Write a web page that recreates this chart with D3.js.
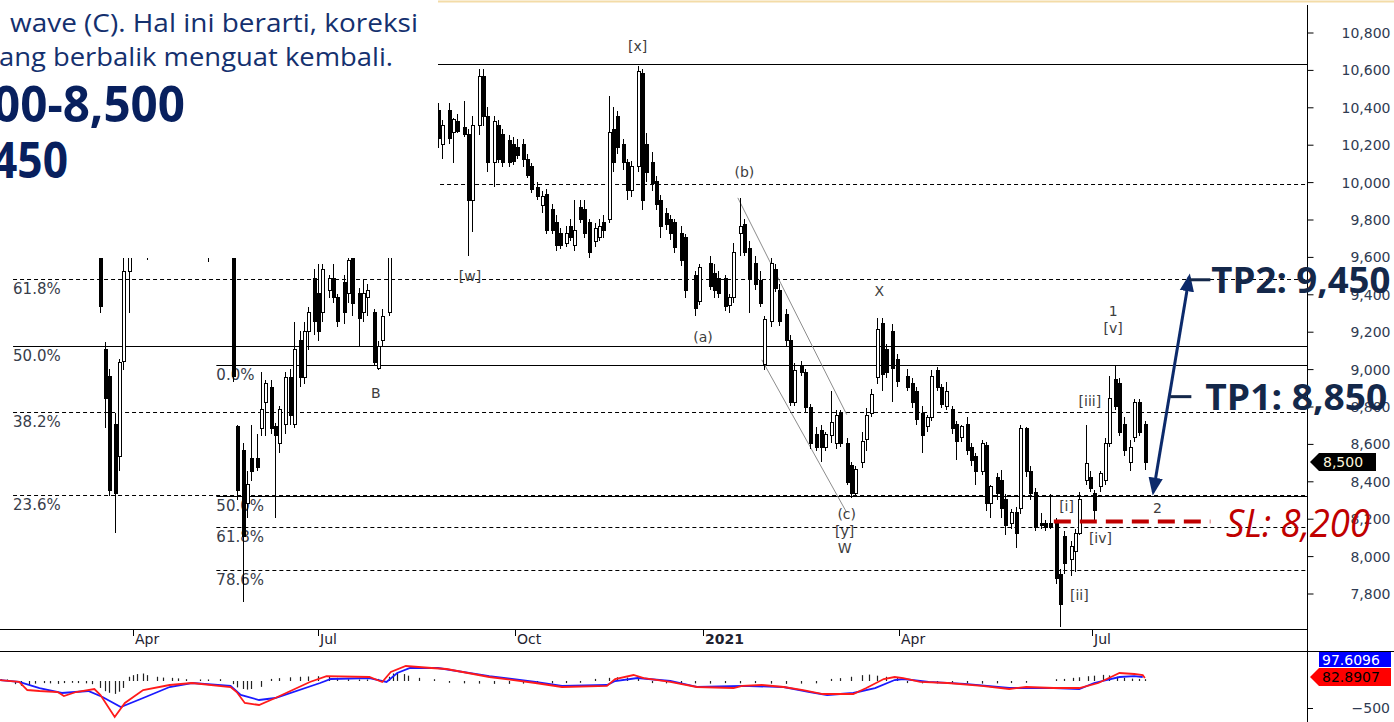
<!DOCTYPE html>
<html lang="en">
<head>
<meta charset="UTF-8">
<title>Elliott wave chart</title>
<script src="https://d3js.org/d3.v7.min.js"></script>
<style>
    body { margin: 0; background: #fff; }
    svg { display: block; }
    text { font-family: 'DejaVu Sans', sans-serif; }
    .price-label { font-size: 14px; fill: #2f3b52; text-anchor: end; }
    .time-label { font-size: 14px; fill: #1e2230; }
    .wave { font-size: 14px; fill: #3d3d3d; text-anchor: middle; }
    .fib { font-size: 15px; fill: #383d4a; }
    .note { font-family: 'Open Sans', sans-serif; }
</style>
</head>
<body>
<svg id="chart" width="1394" height="722"></svg>
<script>
const priceTicks = [7800, 8000, 8200, 8400, 8600, 8800, 9000, 9200, 9400, 9600, 9800, 10000, 10200, 10400, 10600, 10800];
const timeTicks = ["2020-04-01", "2020-07-01", "2020-10-01", "2021-01-01", "2021-04-01", "2021-07-01"];
const timeLabels = ["Apr", "Jul", "Oct", "2021", "Apr", "Jul"];

// date, open, high, low, close
const candles = [
    ["2020-02-03",10600,10700,10500,10550],["2020-02-06",10550,10650,10450,10600],["2020-02-10",10600,10700,10480,10520],
    ["2020-02-13",10520,10600,10400,10450],["2020-02-17",10450,10550,10350,10500],["2020-02-20",10500,10600,10380,10420],
    ["2020-02-24",10420,10450,10150,10200],["2020-02-27",10200,10300,10000,10050],["2020-03-02",10050,10250,9950,10200],
    ["2020-03-05",10200,10300,10050,10100],["2020-03-09",10100,10150,9800,9850],["2020-03-11",9850,9900,9700,9750],
    ["2020-03-13",9750,9800,9640,9700],["2020-03-16",9700,9720,9300,9330],["2020-03-18",9100,9140,8680,8840],
    ["2020-03-20",8960,9000,8320,8350],["2020-03-23",8700,8760,8120,8330],["2020-03-25",8530,9050,8450,9030],
    ["2020-03-27",9040,9800,8990,9520],["2020-03-30",9520,9850,9300,9780],["2020-04-01",9780,10000,9700,9950],
    ["2020-04-03",9950,10100,9800,9900],["2020-04-06",9900,10050,9750,9800],["2020-04-08",9800,9900,9580,9850],
    ["2020-04-13",9850,10150,9800,10100],["2020-04-16",10100,10300,10000,10200],["2020-04-20",10200,10400,10100,10300],
    ["2020-04-23",10300,10450,10150,10250],["2020-04-27",10250,10350,10050,10100],["2020-04-30",10100,10200,9900,9950],
    ["2020-05-04",9950,10000,9750,9800],["2020-05-08",9800,9850,9570,9700],["2020-05-11",9700,9850,9650,9800],
    ["2020-05-14",9800,9900,9700,9750],["2020-05-18",9750,9850,9700,9720],["2020-05-20",9720,9760,8930,8960],
    ["2020-05-22",8690,8700,8300,8350],["2020-05-25",8560,8600,7750,8100],["2020-05-27",8280,8450,8200,8380],
    ["2020-05-29",8520,8700,8400,8450],["2020-06-01",8520,8650,8450,8470],["2020-06-03",8680,8980,8640,8780],
    ["2020-06-05",8820,8940,8640,8920],["2020-06-08",8900,8940,8650,8680],["2020-06-10",8690,8710,8200,8640],
    ["2020-06-12",8600,8800,8550,8780],["2020-06-15",8700,8980,8650,8950],["2020-06-17",8950,9000,8700,8750],
    ["2020-06-19",8700,9250,8680,9100],["2020-06-22",9150,9200,8900,8950],["2020-06-24",8950,9250,8920,9200],
    ["2020-06-26",9200,9330,9100,9300],["2020-06-29",9480,9530,9180,9250],["2020-07-01",9400,9560,9150,9200],
    ["2020-07-03",9300,9560,9250,9530],["2020-07-06",9420,9500,9380,9480],["2020-07-08",9480,9560,9350,9380],
    ["2020-07-10",9380,9400,9220,9250],["2020-07-13",9460,9500,9240,9300],["2020-07-15",9400,9600,9350,9580],
    ["2020-07-17",9600,9640,9280,9350],["2020-07-20",9400,9430,9120,9270],["2020-07-22",9300,9480,9250,9400],
    ["2020-07-24",9380,9450,9280,9420],["2020-07-27",9300,9320,9020,9030],["2020-07-29",9000,9150,8990,9120],
    ["2020-07-31",9150,9320,9120,9280],["2020-08-03",9300,9800,9280,9700],["2020-08-05",9700,9900,9650,9850],
    ["2020-08-07",9850,10000,9750,9950],["2020-08-10",9950,10150,9900,10100],["2020-08-12",10100,10250,10000,10200],
    ["2020-08-14",10200,10350,10100,10300],["2020-08-18",10300,10400,10200,10250],["2020-08-20",10250,10350,10150,10300],
    ["2020-08-24",10300,10400,10200,10350],["2020-08-26",10380,10420,10180,10230],["2020-08-28",10200,10330,10120,10300],
    ["2020-08-31",10380,10420,10200,10230],["2020-09-02",10260,10340,10100,10330],["2020-09-04",10320,10360,10260,10270],
    ["2020-09-07",10290,10430,10240,10250],["2020-09-09",10250,10280,9600,9900],["2020-09-11",9900,10350,9730,10300],
    ["2020-09-14",10300,10600,10250,10560],["2020-09-16",10560,10600,10300,10350],["2020-09-18",10350,10400,10050,10100],
    ["2020-09-21",10100,10350,9970,10320],["2020-09-23",10300,10330,10100,10120],["2020-09-25",10250,10280,10080,10100],
    ["2020-09-28",10220,10250,10080,10100],["2020-09-30",10200,10240,10090,10110],["2020-10-02",10180,10230,10120,10140],
    ["2020-10-05",10200,10230,10080,10120],["2020-10-07",10120,10150,10020,10030],["2020-10-09",10080,10100,9940,9960],
    ["2020-10-12",9970,10000,9900,9920],["2020-10-14",9870,9950,9830,9920],["2020-10-16",9930,9960,9720,9740],
    ["2020-10-19",9850,9880,9720,9740],["2020-10-21",9780,9820,9630,9660],["2020-10-23",9720,9750,9640,9660],
    ["2020-10-26",9670,9760,9650,9720],["2020-10-28",9760,9800,9680,9700],["2020-10-30",9660,9900,9630,9740],
    ["2020-11-02",9860,9900,9780,9800],["2020-11-04",9850,9900,9700,9720],["2020-11-06",9780,9800,9590,9620],
    ["2020-11-09",9680,9780,9650,9750],["2020-11-11",9700,9800,9680,9760],["2020-11-13",9780,9820,9700,9740],
    ["2020-11-16",9800,10460,9780,10260],["2020-11-18",10280,10400,10050,10100],["2020-11-20",10350,10380,10150,10180],
    ["2020-11-23",10200,10230,10060,10100],["2020-11-25",10100,10120,9900,9950],["2020-11-27",9950,10110,9920,10080],
    ["2020-11-30",10080,10620,10050,10590],["2020-12-02",10580,10600,9850,9900],["2020-12-04",10200,10260,10000,10050],
    ["2020-12-07",10100,10160,9950,9990],["2020-12-09",10000,10030,9850,9880],["2020-12-11",9900,9930,9700,9760],
    ["2020-12-14",9830,9860,9740,9770],["2020-12-16",9800,9820,9690,9720],["2020-12-18",9780,9800,9620,9650],
    ["2020-12-21",9720,9760,9550,9580],["2020-12-23",9700,9720,9380,9420],["2020-12-28",9500,9520,9280,9320],
    ["2020-12-30",9360,9560,9340,9540],["2021-01-04",9560,9600,9420,9440],["2021-01-06",9510,9560,9380,9420],
    ["2021-01-08",9480,9520,9380,9400],["2021-01-11",9480,9500,9310,9330],["2021-01-13",9340,9400,9300,9380],
    ["2021-01-15",9380,9670,9350,9620],["2021-01-18",9720,9910,9600,9760],["2021-01-20",9770,9800,9600,9620],
    ["2021-01-22",9640,9680,9300,9480],["2021-01-25",9560,9600,9420,9450],["2021-01-27",9470,9520,9330,9350],
    ["2021-01-29",9020,9280,8990,9260],["2021-02-01",9250,9590,9220,9560],["2021-02-03",9530,9560,9410,9430],
    ["2021-02-05",9420,9450,9230,9250],["2021-02-08",9290,9320,9120,9150],["2021-02-10",9150,9180,8800,8820],
    ["2021-02-12",8820,9030,8800,8990],["2021-02-15",9010,9040,8960,8980],["2021-02-17",8980,9000,8760,8790],
    ["2021-02-19",8790,8810,8570,8600],["2021-02-22",8650,8690,8560,8580],["2021-02-24",8670,8700,8500,8580],
    ["2021-02-26",8580,8660,8560,8650],["2021-03-01",8640,8880,8600,8710],["2021-03-03",8600,8780,8570,8750],
    ["2021-03-05",8760,8780,8580,8600],["2021-03-08",8600,8630,8380,8390],["2021-03-10",8480,8500,8310,8330],
    ["2021-03-12",8330,8480,8320,8460],["2021-03-15",8500,8660,8470,8610],["2021-03-17",8620,8790,8560,8750],
    ["2021-03-19",8760,8890,8740,8860],["2021-03-22",8950,9270,8920,9210],["2021-03-24",9240,9270,8880,8970],
    ["2021-03-26",9100,9130,8950,8980],["2021-03-29",9200,9240,8820,9000],["2021-03-31",9050,9080,8900,8930],
    ["2021-04-05",8960,9000,8880,8900],["2021-04-07",8920,8950,8790,8820],["2021-04-09",8880,8900,8700,8730],
    ["2021-04-12",8760,8800,8550,8640],["2021-04-14",8690,8750,8660,8740],["2021-04-16",8740,8990,8720,8960],
    ["2021-04-19",8990,9010,8880,8900],["2021-04-21",8900,8920,8790,8810],["2021-04-23",8800,8930,8780,8880],
    ["2021-04-26",8780,8800,8650,8680],["2021-04-28",8700,8720,8510,8610],["2021-04-30",8630,8700,8610,8690],
    ["2021-05-03",8700,8740,8540,8560],["2021-05-05",8580,8600,8480,8510],["2021-05-07",8530,8550,8380,8450],
    ["2021-05-10",8450,8620,8430,8600],["2021-05-12",8590,8610,8240,8280],["2021-05-14",8280,8380,8200,8370],
    ["2021-05-17",8420,8440,8300,8330],["2021-05-19",8400,8460,8200,8250],["2021-05-21",8300,8330,8110,8160],
    ["2021-05-24",8170,8250,8140,8230],["2021-05-26",8230,8260,8040,8120],["2021-05-28",8250,8700,8220,8680],
    ["2021-05-31",8680,8690,8420,8450],["2021-06-02",8450,8480,8300,8330],["2021-06-04",8340,8360,8130,8150],
    ["2021-06-07",8170,8230,8140,8160],["2021-06-09",8170,8190,8130,8150],["2021-06-11",8170,8330,8140,8150],
    ["2021-06-14",8170,8200,7850,7880],["2021-06-16",7900,7930,7620,7740],["2021-06-18",8100,8130,7900,7960],
    ["2021-06-21",7980,8080,7890,8050],["2021-06-23",8020,8140,7910,8120],["2021-06-25",8120,8340,8110,8300],
    ["2021-06-28",8400,8700,8380,8490],["2021-06-30",8420,8450,8340,8360],["2021-07-02",8330,8350,8190,8240],
    ["2021-07-05",8370,8450,8340,8440],["2021-07-07",8400,8630,8380,8600],["2021-07-09",8600,8960,8580,8840],
    ["2021-07-12",8940,9020,8780,8800],["2021-07-14",8920,8950,8640,8660],["2021-07-16",8700,8740,8530,8560],
    ["2021-07-19",8500,8620,8450,8580],["2021-07-21",8630,8840,8610,8820],["2021-07-23",8820,8840,8640,8660],
    ["2021-07-26",8700,8720,8460,8500]
];

const redLine = [
    ["2020-01-26",18],["2020-02-05",-18],["2020-02-09",-167],["2020-02-15",-185],["2020-02-24",-204],["2020-02-27",-278],
    ["2020-03-04",-204],["2020-03-13",-148],["2020-03-16",-259],["2020-03-23",-666],["2020-03-28",-407],["2020-04-06",-167],
    ["2020-04-19",-74],["2020-04-30",-37],["2020-05-19",-111],["2020-05-22",-204],["2020-05-26",-407],["2020-06-02",-444],
    ["2020-06-10",-315],["2020-06-27",-18],["2020-07-05",92],["2020-07-25",74],["2020-07-31",-18],["2020-08-04",167],
    ["2020-08-11",278],["2020-08-23",241],["2020-08-30",222],["2020-09-19",74],["2020-10-11",-37],["2020-10-24",-111],
    ["2020-11-15",-92],["2020-11-19",37],["2020-11-28",111],["2020-12-03",55],["2020-12-16",-18],["2020-12-29",-111],
    ["2021-01-15",-130],["2021-01-19",-92],["2021-01-28",-74],["2021-02-07",-111],["2021-02-16",-167],["2021-02-25",-241],
    ["2021-03-11",-241],["2021-03-17",-130],["2021-03-25",37],["2021-03-30",74],["2021-04-03",55],["2021-04-11",-18],
    ["2021-04-24",-37],["2021-05-10",-92],["2021-05-23",-148],["2021-05-31",-111],["2021-06-13",-130],["2021-06-25",-130],
    ["2021-07-04",-37],["2021-07-10",74],["2021-07-14",148],["2021-07-21",130],["2021-07-25",111],["2021-07-26",55]
];

const blueLine = [
    ["2020-01-26",18],["2020-02-05",-18],["2020-02-15",-130],["2020-02-26",-222],["2020-03-10",-185],["2020-03-17",-296],
    ["2020-03-26",-481],["2020-04-06",-315],["2020-04-19",-111],["2020-04-30",-37],["2020-05-19",-92],["2020-05-24",-259],
    ["2020-06-02",-352],["2020-06-10",-315],["2020-07-02",-37],["2020-07-07",37],["2020-07-25",55],["2020-08-02",-18],
    ["2020-08-07",148],["2020-08-13",241],["2020-08-26",241],["2020-09-19",92],["2020-10-11",-18],["2020-10-24",-92],
    ["2020-11-15",-74],["2020-11-19",0],["2020-11-30",55],["2020-12-16",0],["2020-12-29",-110],["2021-01-19",-92],
    ["2021-02-07",-111],["2021-02-19",-204],["2021-02-27",-259],["2021-03-11",-222],["2021-03-21",-130],["2021-03-30",18],
    ["2021-04-03",37],["2021-04-15",-18],["2021-05-02",-55],["2021-05-23",-130],["2021-06-13",-130],["2021-06-25",-148],
    ["2021-07-02",-37],["2021-07-14",74],["2021-07-21",92],["2021-07-25",74]
];

const histBars = [
    ["2020-01-27",15],["2020-01-30",10],["2020-02-03",-40],["2020-02-06",-70],["2020-02-10",-60],["2020-02-13",-30],
    ["2020-02-17",-20],["2020-02-20",-25],["2020-02-24",-35],["2020-02-27",-20],["2020-03-02",-15],["2020-03-05",-20],
    ["2020-03-09",-25],["2020-03-12",-40],["2020-03-16",-110],["2020-03-18",-170],["2020-03-20",-200],["2020-03-23",-220],
    ["2020-03-25",-180],["2020-03-27",-110],["2020-03-30",60],["2020-04-01",90],["2020-04-03",110],["2020-04-06",120],
    ["2020-04-08",90],["2020-04-13",60],["2020-04-16",45],["2020-04-20",40],["2020-04-23",30],["2020-04-27",15],
    ["2020-05-04",10],["2020-05-08",10],["2020-05-14",15],["2020-05-20",-40],["2020-05-22",-100],["2020-05-25",-130],
    ["2020-05-27",-140],["2020-05-29",-130],["2020-06-03",-90],["2020-06-08",20],["2020-06-12",35],["2020-06-17",50],
    ["2020-06-22",60],["2020-06-26",65],["2020-07-01",70],["2020-07-06",60],["2020-07-10",40],["2020-07-15",15],
    ["2020-07-20",10],["2020-07-24",10],["2020-07-29",20],["2020-08-03",60],["2020-08-05",120],["2020-08-07",130],
    ["2020-08-10",110],["2020-08-12",80],["2020-08-17",40],["2020-08-24",15],["2020-08-31",-15],["2020-09-07",-25],
    ["2020-09-14",-30],["2020-09-21",-35],["2020-09-28",-35],["2020-10-05",-30],["2020-10-12",-30],["2020-10-19",-25],
    ["2020-10-26",-20],["2020-11-02",-15],["2020-11-09",20],["2020-11-16",40],["2020-11-20",50],["2020-11-25",45],
    ["2020-11-30",40],["2020-12-07",-20],["2020-12-14",-25],["2020-12-21",-30],["2020-12-28",-25],["2021-01-04",-30],
    ["2021-01-11",-20],["2021-01-18",-25],["2021-01-25",-20],["2021-02-01",-30],["2021-02-08",-35],["2021-02-15",-30],
    ["2021-02-22",-25],["2021-03-01",20],["2021-03-05",35],["2021-03-10",60],["2021-03-15",90],["2021-03-18",100],
    ["2021-03-22",80],["2021-03-26",60],["2021-03-31",35],["2021-04-05",-20],["2021-04-12",-25],["2021-04-19",-25],
    ["2021-04-26",-20],["2021-05-03",-25],["2021-05-10",-30],["2021-05-17",-25],["2021-05-24",-20],["2021-05-31",-15],
    ["2021-06-14",15],["2021-06-18",20],["2021-06-22",40],["2021-06-25",50],["2021-06-29",70],["2021-07-02",80],
    ["2021-07-06",95],["2021-07-09",85],["2021-07-13",60],["2021-07-16",40],["2021-07-20",25],["2021-07-23",20],
    ["2021-07-26",15]
];

const fibAStart = "2020-02-02";
const fibALevels = [7614, 8326, 8766, 9122, 9478, 9985, 10630];
const fibALabels = ["0.0%", "23.6%", "38.2%", "50.0%", "61.8%", "78.6%", "100.0%"];
const fibADashed = [false, true, true, false, true, true, false];

const fibBStart = "2020-05-12";
const fibBLevels = [9021, 8320, 8155, 7925, 7620];
const fibBLabels = ["0.0%", "50.0%", "61.8%", "78.6%", "100.0%"];
const fibBDashed = [false, false, true, true, false];

const channelLines = [
    [["2021-01-17", 9913], ["2021-03-08", 8754]],
    [["2021-01-28", 9047], ["2021-03-08", 8230]]
];

const waveLabels = [
    ["[x]","2020-11-30",10699],["[w]","2020-09-10",9470],["(b)","2021-01-20",10025],["(a)","2021-01-01",9144],
    ["X","2021-03-23",9389],["B","2020-07-28",8844],["(c)","2021-03-08",8198],["[y]","2021-03-07",8107],
    ["W","2021-03-07",8016],["1","2021-07-11",9283],["[v]","2021-07-11",9192],["[iii]","2021-06-30",8802],
    ["[i]","2021-06-19",8241],["[iv]","2021-07-05",8070],["[ii]","2021-06-25",7765],["2","2021-08-01",8230]
];

const lastPrice = 8500;
const indicatorValues = ["97.6096", "82.8907"];
const indicatorTick = -500;

const arrowFrom = ["2021-07-30", 8340];
const arrowTo = ["2021-08-16", 9490];
const targets = [
    { label: "TP2: 9,450", level: 9475, start: "2021-08-16", end: "2021-08-26" },
    { label: "TP1: 8,850", level: 8850, start: "2021-08-07", end: "2021-08-17" }
];
const stopLoss = { label: "SL: 8,200", level: 8182, start: "2021-06-13", end: "2021-08-26" };

const noteLines = ["wave (C). Hal ini berarti, koreksi", "ang berbalik menguat kembali."];
const noteBold = ["00-8,500", "450"];

const parse = d3.timeParse("%Y-%m-%d");
const chart = d3.select("#chart");

const x = d3.scaleTime()
    .domain(["2020-01-01", "2020-04-01", "2020-07-01", "2020-10-01", "2021-01-01", "2021-04-01", "2021-07-01", "2021-11-01"].map(parse))
    .range([-52, 133, 318, 515, 703, 899, 1092, 1352]);
const y = d3.scaleLinear().domain([7800, 10800]).range([593, 32]);
const yInd = d3.scaleLinear().domain([-500, 0]).range([708, 681]);

const px = d => Math.round(x(parse(d))) + 0.5;

const defs = chart.append("defs");
defs.append("clipPath").attr("id", "mainClip")
    .append("rect").attr("x", 0).attr("y", 0).attr("width", 1307).attr("height", 627);
defs.append("clipPath").attr("id", "indClip")
    .append("rect").attr("x", 0).attr("y", 652).attr("width", 1307).attr("height", 70);
defs.append("marker")
    .attr("id", "head")
    .attr("viewBox", "0 0 10 10")
    .attr("refX", 8).attr("refY", 5)
    .attr("markerWidth", 6).attr("markerHeight", 6)
    .attr("orient", "auto-start-reverse")
    .append("path").attr("d", "M0,1L10,5L0,9z").attr("fill", "#0c2a6b");

chart.append("rect").attr("width", 1394).attr("height", 722).attr("fill", "#fff");

const plot = chart.append("g").attr("clip-path", "url(#mainClip)");

// fibonacci levels
function drawFib(start, levels, labels, dashed) {
    const g = plot.append("g");
    g.selectAll("line").data(levels).enter().append("line")
        .attr("x1", x(parse(start))).attr("x2", 1307)
        .attr("y1", d => Math.round(y(d)) + 0.5).attr("y2", d => Math.round(y(d)) + 0.5)
        .attr("stroke", "#000").attr("stroke-width", 1)
        .attr("stroke-dasharray", (d, i) => dashed[i] ? "4,3" : null);
    g.selectAll("text").data(levels).enter().append("text")
        .attr("class", "fib")
        .attr("x", x(parse(start)))
        .attr("y", d => y(d) + 15)
        .text((d, i) => labels[i]);
}
drawFib(fibAStart, fibALevels, fibALabels, fibADashed);
drawFib(fibBStart, fibBLevels, fibBLabels, fibBDashed);

plot.append("g").selectAll("line").data(channelLines).enter().append("line")
    .attr("x1", d => x(parse(d[0][0]))).attr("y1", d => y(d[0][1]))
    .attr("x2", d => x(parse(d[1][0]))).attr("y2", d => y(d[1][1]))
    .attr("stroke", "#8c8c8c").attr("stroke-width", 1);

const candleG = plot.append("g").attr("shape-rendering", "crispEdges")
    .selectAll("g").data(candles).enter().append("g");
candleG.append("line")
    .attr("x1", d => px(d[0])).attr("x2", d => px(d[0]))
    .attr("y1", d => y(d[2])).attr("y2", d => y(d[3]))
    .attr("stroke", "#000");
candleG.append("rect")
    .attr("x", d => px(d[0]) - 1.5)
    .attr("width", 3)
    .attr("y", d => y(Math.max(d[1], d[4])))
    .attr("height", d => Math.max(1, Math.abs(y(d[1]) - y(d[4]))))
    .attr("fill", d => d[4] >= d[1] ? "#fff" : "#000")
    .attr("stroke", "#000");

plot.append("g").selectAll("text").data(waveLabels).enter().append("text")
    .attr("class", "wave")
    .attr("x", d => x(parse(d[1])))
    .attr("y", d => y(d[2]))
    .text(d => d[0]);

// text box covering the upper left
chart.append("rect").attr("x", 0).attr("y", 0).attr("width", 438).attr("height", 258).attr("fill", "#fff");
chart.append("line").attr("x1", 438).attr("x2", 1394).attr("y1", 1.5).attr("y2", 1.5)
    .attr("stroke", "#f3dca8").attr("stroke-width", 2);

chart.append("text").attr("class", "note")
    .attr("x", 10).attr("y", 32)
    .attr("textLength", 408).attr("lengthAdjust", "spacingAndGlyphs")
    .style("font-size", "25px").style("fill", "#14306e")
    .text(noteLines[0]);
chart.append("text").attr("class", "note")
    .attr("x", -1).attr("y", 66)
    .attr("textLength", 394).attr("lengthAdjust", "spacingAndGlyphs")
    .style("font-size", "25px").style("fill", "#14306e")
    .text(noteLines[1]);
chart.append("text").attr("class", "note")
    .attr("x", 185).attr("y", 122).attr("text-anchor", "end")
    .attr("textLength", 192).attr("lengthAdjust", "spacingAndGlyphs")
    .style("font-size", "50px").style("font-weight", "bold").style("fill", "#08205e")
    .text(noteBold[0]);
chart.append("text").attr("class", "note")
    .attr("x", 68).attr("y", 178).attr("text-anchor", "end")
    .attr("textLength", 76).attr("lengthAdjust", "spacingAndGlyphs")
    .style("font-size", "50px").style("font-weight", "bold").style("fill", "#08205e")
    .text(noteBold[1]);

// time axis band
chart.append("line").attr("x1", 0).attr("x2", 1307).attr("y1", 629.5).attr("y2", 629.5).attr("stroke", "#000");
chart.append("line").attr("x1", 0).attr("x2", 1394).attr("y1", 651.5).attr("y2", 651.5).attr("stroke", "#000");
const timeG = chart.append("g").selectAll("g").data(timeTicks).enter().append("g");
timeG.append("line")
    .attr("x1", d => px(d)).attr("x2", d => px(d))
    .attr("y1", 630).attr("y2", 636).attr("stroke", "#000");
timeG.append("text")
    .attr("class", "time-label")
    .attr("x", d => x(parse(d)) + 2)
    .attr("y", 644)
    .style("font-weight", (d, i) => timeLabels[i] === "2021" ? "bold" : null)
    .text((d, i) => timeLabels[i]);

// indicator panel
const ind = chart.append("g").attr("clip-path", "url(#indClip)");
ind.append("g").selectAll("line").data(histBars).enter().append("line")
    .attr("x1", d => px(d[0])).attr("x2", d => px(d[0]))
    .attr("y1", yInd(0)).attr("y2", d => yInd(d[1]) + (d[1] >= 0 ? -1 : 1))
    .attr("stroke", "#222").attr("stroke-width", 1.2);
const indLine = d3.line().x(d => x(parse(d[0]))).y(d => yInd(d[1]));
ind.append("path").datum(blueLine).attr("d", indLine)
    .attr("fill", "none").attr("stroke", "#1a1aff").attr("stroke-width", 1.8);
ind.append("path").datum(redLine).attr("d", indLine)
    .attr("fill", "none").attr("stroke", "#ff1a1a").attr("stroke-width", 1.8);

// right axis
chart.append("line").attr("x1", 1307.5).attr("x2", 1307.5).attr("y1", 5).attr("y2", 722).attr("stroke", "#000");
const yAxis = d3.axisRight(y).tickValues(priceTicks).tickSize(6).tickFormat(d3.format(","));
const yAxisG = chart.append("g").attr("transform", "translate(1307.5,0.5)").call(yAxis);
yAxisG.select(".domain").remove();
yAxisG.selectAll("text").attr("class", "price-label").attr("x", 83).attr("dy", "0.35em");

chart.append("line").attr("x1", 1307).attr("x2", 1313)
    .attr("y1", Math.round(yInd(indicatorTick)) + 0.5).attr("y2", Math.round(yInd(indicatorTick)) + 0.5)
    .attr("stroke", "#000");
chart.append("text").attr("class", "price-label")
    .attr("x", 1390).attr("y", yInd(indicatorTick) + 5)
    .text(d3.format(",")(indicatorTick));

const ly = y(lastPrice);
chart.append("path")
    .attr("d", `M1310,${ly}L1319,${ly - 9}L1376,${ly - 9}L1376,${ly + 9}L1319,${ly + 9}Z`)
    .attr("fill", "#000");
chart.append("text").attr("x", 1323).attr("y", ly + 5)
    .style("font-size", "14px").style("fill", "#fdf6dc")
    .text(d3.format(",")(lastPrice));

chart.append("rect").attr("x", 1319).attr("y", 652).attr("width", 72).attr("height", 15).attr("fill", "#0000ff");
chart.append("text").attr("x", 1322).attr("y", 665)
    .style("font-size", "14px").style("fill", "#fff").text(indicatorValues[0]);
chart.append("path").attr("d", "M1310,677L1319,668L1391,668L1391,686L1319,686Z").attr("fill", "#ff0000");
chart.append("text").attr("x", 1322).attr("y", 682)
    .style("font-size", "14px").style("fill", "#000").text(indicatorValues[1]);

// trade plan annotation
chart.append("line")
    .attr("x1", x(parse(stopLoss.start))).attr("x2", x(parse(stopLoss.end)))
    .attr("y1", y(stopLoss.level)).attr("y2", y(stopLoss.level))
    .attr("stroke", "#c00000").attr("stroke-width", 4).attr("stroke-dasharray", "17,9");
chart.append("text").attr("class", "note")
    .attr("x", 1226).attr("y", y(stopLoss.level) + 15)
    .attr("textLength", 144).attr("lengthAdjust", "spacingAndGlyphs")
    .style("font-size", "38px").style("font-style", "italic").style("fill", "#c00000")
    .text(stopLoss.label);

chart.append("line")
    .attr("x1", x(parse(arrowFrom[0]))).attr("y1", y(arrowFrom[1]))
    .attr("x2", x(parse(arrowTo[0]))).attr("y2", y(arrowTo[1]))
    .attr("stroke", "#0c2a6b").attr("stroke-width", 3)
    .attr("marker-start", "url(#head)").attr("marker-end", "url(#head)");

const labelGap = [1, 14];
const labelWidth = [179, 182];
targets.forEach((t, i) => {
    chart.append("line")
        .attr("x1", x(parse(t.start))).attr("x2", x(parse(t.end)))
        .attr("y1", y(t.level)).attr("y2", y(t.level))
        .attr("stroke", "#14284a").attr("stroke-width", 3);
    chart.append("text").attr("class", "note")
        .attr("x", x(parse(t.end)) + labelGap[i]).attr("y", y(t.level) + 13)
        .attr("textLength", labelWidth[i]).attr("lengthAdjust", "spacingAndGlyphs")
        .style("font-size", "35px").style("font-weight", "bold").style("fill", "#14284a")
        .text(t.label);
});
</script>
</body>
</html>
